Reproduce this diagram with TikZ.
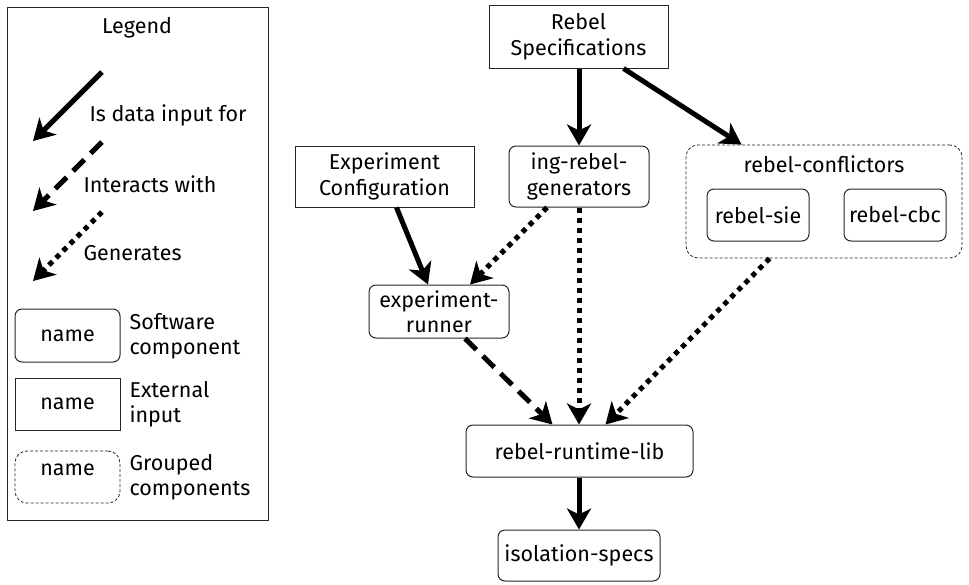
\documentclass[tikz,border=0pt]{standalone}
\usepackage{fontspec}
\setmainfont{Fira Sans}
\usetikzlibrary{arrows.meta}

\tikzset{
  comp/.style={draw=black!85, line width=1pt, rounded corners=7pt, align=center, inner sep=0pt},
  extin/.style={draw=black!85, line width=1pt, align=center, inner sep=0pt},
  grp/.style={draw=black!85, line width=0.8pt, dash pattern=on 3pt off 2pt, rounded corners=12pt, inner sep=0pt},
  feeds/.style={line width=5pt, -{Stealth[length=21pt,width=24pt,inset=6pt]}},
  talks/.style={feeds, dash pattern=on 16pt off 9pt},
  makes/.style={feeds, dash pattern=on 5pt off 5pt},
}

\begin{document}
\begin{tikzpicture}[x=1pt, y=-1pt, font=\fontsize{21.5}{25.5}\selectfont]
    \useasboundingbox (0,0) rectangle (969,584);

    % legend
    \node[draw=black!85, line width=1pt, minimum width=261pt, minimum height=513pt, inner sep=0pt] (legend) at (137.5,263.5) {};
    \node (legtitle) at (137,28) {Legend};
    \foreach \sty/\y in {feeds/0, talks/70, makes/140} {
        \coordinate (from\sty) at (102,72+\y);
        \coordinate (to\sty) at (33,141+\y);
        \draw[\sty] (from\sty) -- (to\sty);
    }
    \node[anchor=west] (legfeeds) at (86,115) {Is data input for};
    \node[anchor=west] (legtalks) at (80,184) {Interacts with};
    \node[anchor=west] (legmakes) at (80,253) {Generates};

    \node[comp, minimum width=105pt, minimum height=53pt] (legcomp) at (67.5,335.5) {name};
    \node[extin, minimum width=105pt, minimum height=52pt] (legextin) at (67.5,404) {name};
    \node[grp, minimum width=105pt, minimum height=52pt] (leggrp) at (67.5,477) {};
    \node (leggrpname) at (67.5,470) {name};
    \node[anchor=west, align=left] (legcomptxt) at (126,336) {Software\\component};
    \node[anchor=west, align=left] (legextintxt) at (126,404) {External\\input};
    \node[anchor=west, align=left] (leggrptxt) at (126,477) {Grouped\\components};

    % components
    \node[extin, minimum width=179pt, minimum height=63pt] (spec) at (578.5,36.5) {Rebel\\Specifications};
    \node[extin, minimum width=179pt, minimum height=61pt] (config) at (384.5,176.5) {Experiment\\Configuration};
    \node[comp, minimum width=140pt, minimum height=61pt] (gens) at (579,176.5) {ing-rebel-\\generators};
    \node[grp, minimum width=276pt, minimum height=113pt] (conf) at (824,201.5) {};
    \node (conftitle) at (824,164) {rebel-conflictors};
    \node[comp, minimum width=102pt, minimum height=52pt] (sie) at (758,215) {rebel-sie};
    \node[comp, minimum width=102pt, minimum height=52pt] (cbc) at (895,215) {rebel-cbc};
    \node[comp, minimum width=140pt, minimum height=53pt] (runner) at (439,311.5) {experiment-\\runner};
    \node[comp, minimum width=227pt, minimum height=52pt] (rt) at (579.5,451) {rebel-runtime-lib};
    \node[comp, minimum width=162pt, minimum height=51pt] (iso) at (579,555.5) {isolation-specs};

    % connectors
    \draw[feeds] ([xshift=0.5pt]spec.south) -- (gens.north);
    \draw[feeds] ([xshift=45pt]spec.south) -- ([xshift=56pt]conf.north west);
    \draw[feeds] ([xshift=12pt]config.south) -- ([xshift=-11pt]runner.north);
    \draw[makes] ([xshift=-32pt]gens.south) -- ([xshift=31pt]runner.north);
    \draw[makes] (gens.south) -- ([xshift=-0.5pt]rt.north);
    \draw[talks] ([xshift=26pt]runner.south) -- ([xshift=-27pt]rt.north);
    \draw[makes] ([xshift=84pt]conf.south west) -- ([xshift=26pt]rt.north);
    \draw[feeds] ([xshift=-0.5pt]rt.south) -- (iso.north);

\end{tikzpicture}
\end{document}
